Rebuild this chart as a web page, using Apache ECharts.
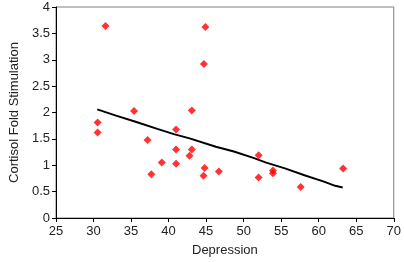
<!DOCTYPE html>
<html>
<head>
<meta charset="utf-8">
<script src="https://cdn.jsdelivr.net/npm/echarts@6/dist/echarts.min.js"></script>
<style>
html, body { margin: 0; padding: 0; background: #fff; }
#chart { width: 404px; height: 262px; }
</style>
</head>
<body>
<div id="chart"></div>
<script>
// scatter points (depression, cortisol fold stimulation)
var depression = [30.55, 30.55, 31.6, 35.4, 37.2, 37.7, 39.1, 41.0, 41.0, 41.0, 42.8, 43.1, 43.1, 44.65, 44.8, 44.7, 44.9, 46.7, 52.0, 52.0, 53.9, 53.9, 57.6, 63.25];
var cortisol   = [1.81, 1.62, 3.64, 2.03, 1.48, 0.83, 1.05, 1.68, 1.30, 1.03, 1.18, 1.30, 2.04, 0.80, 0.95, 2.92, 3.62, 0.88, 1.19, 0.77, 0.90, 0.85, 0.59, 0.94];

// trend line
var trendX = [30.5, 33.0, 35.5, 38.5, 40.7, 42.8, 46.3, 48.7, 51.3, 53.0, 55.5, 58.1, 60.7, 62.2, 63.2];
var trendY = [2.06, 1.94, 1.83, 1.69, 1.59, 1.51, 1.35, 1.26, 1.14, 1.05, 0.94, 0.81, 0.69, 0.61, 0.58];

var xMin = 25, xMax = 70, xStep = 5;
var yMin = 0, yMax = 4, yStep = 0.5;

var pts = depression.map(function(d, i) { return [d, cortisol[i]]; });
var trend = trendX.map(function(d, i) { return [d, trendY[i]]; });

var myChart = echarts.init(document.getElementById('chart'));
var font = 'Liberation Sans, Arial, sans-serif';

var option = {
	animation: false,
	backgroundColor: '#fff',
	grid: {
		left: 45,
		right: 8,
		top: 7,
		bottom: 39,
		show: true,
		borderColor: '#808080',
		borderWidth: 1
	},
	xAxis: {
		type: 'value',
		min: xMin, max: xMax, interval: xStep,
		name: 'Depression',
		nameLocation: 'middle',
		nameGap: 26,
		nameTextStyle: { color: '#222', fontSize: 13, fontFamily: font },
		splitLine: { show: false },
		axisLine: { lineStyle: { color: '#000', width: 1 } },
		axisTick: { show: true, length: 4, lineStyle: { color: '#000' } },
		axisLabel: { color: '#222', fontSize: 13, fontFamily: font, margin: 7 }
	},
	yAxis: {
		type: 'value',
		min: yMin, max: yMax, interval: yStep,
		name: 'Cortisol Fold Stimulation',
		nameLocation: 'middle',
		nameGap: 33,
		nameTextStyle: { color: '#222', fontSize: 13, fontFamily: font },
		splitLine: { show: false },
		axisLine: { show: true, lineStyle: { color: '#000', width: 1 } },
		axisTick: { show: true, length: 4, lineStyle: { color: '#000' } },
		axisLabel: {
			color: '#222', fontSize: 13, fontFamily: font, margin: 6,
			formatter: function(v) { return String(v); }
		}
	},
	series: [
		{
			type: 'line',
			data: trend,
			symbol: 'none',
			smooth: false,
			lineStyle: { color: '#000', width: 2 },
			z: 2
		},
		{
			type: 'scatter',
			data: pts,
			symbol: 'diamond',
			symbolSize: 8,
			itemStyle: { color: '#ff0000' },
			z: 3
		}
	]
};

myChart.setOption(option);
</script>
</body>
</html>
